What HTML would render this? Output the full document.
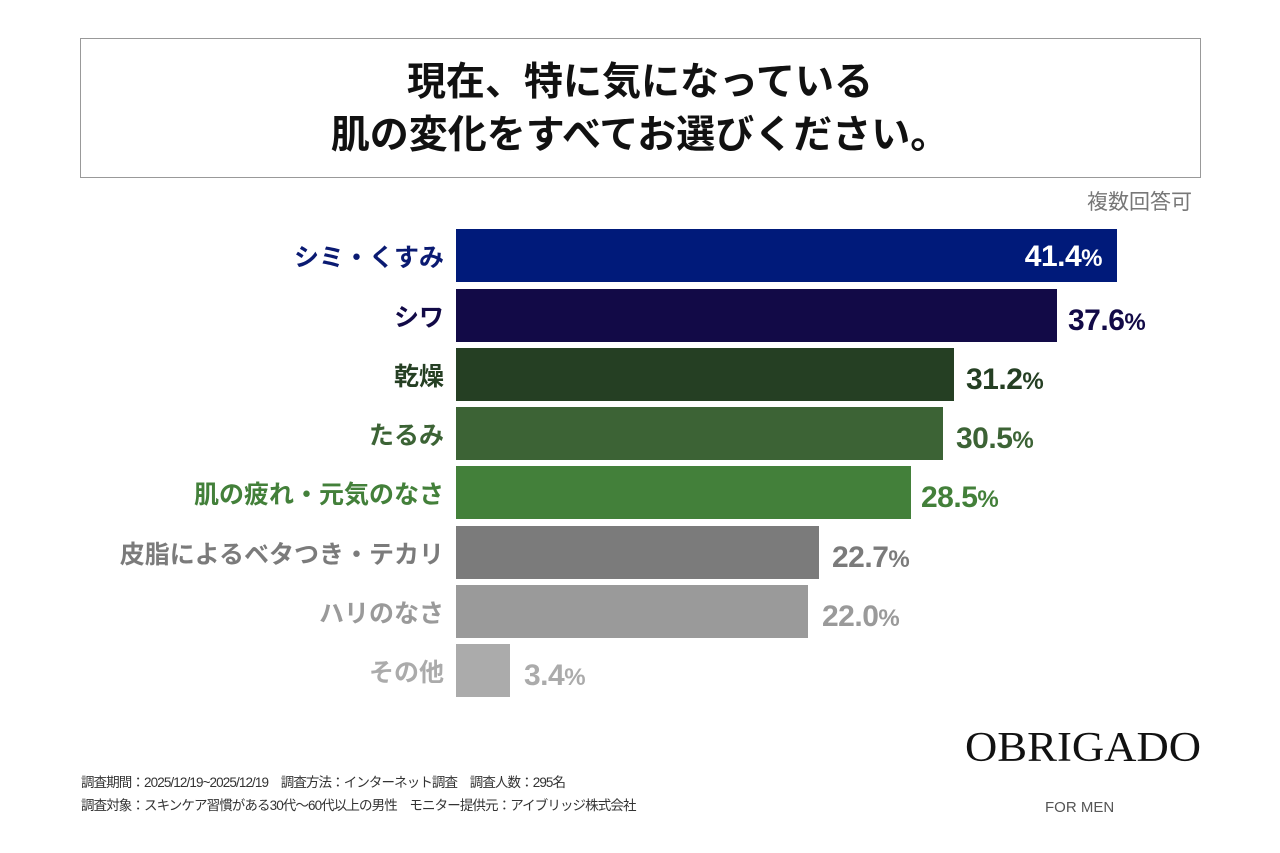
<!DOCTYPE html><html><head><meta charset="utf-8"><style>
body{margin:0;width:1280px;height:853px;background:#fff;position:relative;font-family:"Liberation Sans","Noto Sans CJK JP",sans-serif;overflow:hidden}
.box{position:absolute;left:80px;top:38px;width:1121px;height:140px;border:1px solid #999;box-sizing:border-box}
.t{position:absolute;left:80px;width:1120px;text-align:center;font-size:39px;font-weight:bold;color:#111;line-height:44px}
.bar{position:absolute;left:456px;height:53px}
.lab{position:absolute;right:836px;font-size:25px;font-weight:bold;line-height:53px;white-space:nowrap;margin-top:3px}
.val{position:absolute;font-size:30px;font-weight:bold;line-height:53px;letter-spacing:-0.5px}
.val small{font-size:24px}
.foot{position:absolute;left:81px;font-size:13.5px;color:#333;letter-spacing:-0.9px}
</style></head><body>
<div class="box"></div>
<div class="t" style="top:61px">現在、特に気になっている</div>
<div class="t" style="top:114px">肌の変化をすべてお選びください。</div>
<div style="position:absolute;right:88px;top:186px;font-size:21px;color:#777">複数回答可</div>

<div class="bar" style="top:229px;width:661px;background:#001a7a"></div>
<div class="lab" style="top:229px;color:#0a1a72">シミ・くすみ</div>
<div class="val" style="top:230px;right:178px;color:#fff">41.4<small>%</small></div>

<div class="bar" style="top:289px;width:601px;background:#120a47"></div>
<div class="lab" style="top:289px;color:#120a47">シワ</div>
<div class="val" style="top:294px;left:1068px;color:#120a47">37.6<small>%</small></div>

<div class="bar" style="top:348px;width:498px;background:#253f23"></div>
<div class="lab" style="top:348px;color:#253f23">乾燥</div>
<div class="val" style="top:353px;left:966px;color:#253f23">31.2<small>%</small></div>

<div class="bar" style="top:407px;width:487px;background:#3c6335"></div>
<div class="lab" style="top:407px;color:#3c6335">たるみ</div>
<div class="val" style="top:412px;left:956px;color:#3c6335">30.5<small>%</small></div>

<div class="bar" style="top:466px;width:455px;background:#43803a"></div>
<div class="lab" style="top:466px;color:#43803a">肌の疲れ・元気のなさ</div>
<div class="val" style="top:471px;left:921px;color:#43803a">28.5<small>%</small></div>

<div class="bar" style="top:526px;width:363px;background:#7b7b7b"></div>
<div class="lab" style="top:526px;color:#7b7b7b">皮脂によるベタつき・テカリ</div>
<div class="val" style="top:531px;left:832px;color:#7b7b7b">22.7<small>%</small></div>

<div class="bar" style="top:585px;width:352px;background:#9a9a9a"></div>
<div class="lab" style="top:585px;color:#9a9a9a">ハリのなさ</div>
<div class="val" style="top:590px;left:822px;color:#9a9a9a">22.0<small>%</small></div>

<div class="bar" style="top:644px;width:54px;background:#ababab"></div>
<div class="lab" style="top:644px;color:#ababab">その他</div>
<div class="val" style="top:649px;left:524px;color:#ababab">3.4<small>%</small></div>

<div class="foot" style="top:771px">調査期間：2025/12/19~2025/12/19　調査方法：インターネット調査　調査人数：295名</div>
<div class="foot" style="top:794px">調査対象：スキンケア習慣がある30代～60代以上の男性　モニター提供元：アイブリッジ株式会社</div>
<div style="position:absolute;left:965px;top:724px;font-family:'Liberation Serif',serif;font-size:42px;color:#111;transform:scaleX(1.065);transform-origin:left">OBRIGADO</div>
<div style="position:absolute;left:1045px;top:799px;font-size:15px;color:#555">FOR MEN</div>
</body></html>
